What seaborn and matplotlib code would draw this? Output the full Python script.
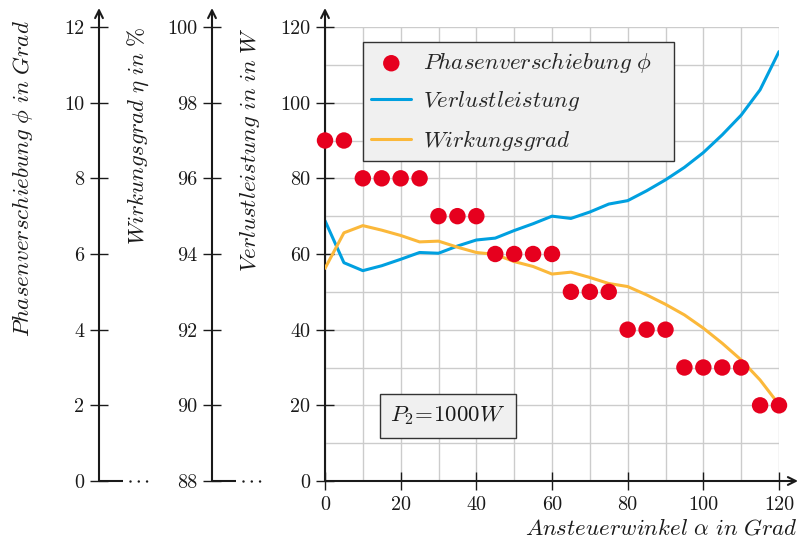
import matplotlib
matplotlib.use("Agg")
import matplotlib.pyplot as plt
import pandas as pd
import seaborn as sns
from matplotlib.ticker import MultipleLocator

# Messreihe: Ansteuerwinkel in Grad
winkel = [0, 5, 10, 15, 20, 25, 30, 35, 40, 45, 50, 55, 60,
          65, 70, 75, 80, 85, 90, 95, 100, 105, 110, 115, 120]
# Phasenverschiebung phi in Grad
phase = [9, 9, 8, 8, 8, 8, 7, 7, 7, 6, 6, 6, 6,
         5, 5, 5, 4, 4, 4, 3, 3, 3, 3, 2, 2]
# Verlustleistung in W
verlust = [68.8, 57.7, 55.6, 56.9, 58.6, 60.4, 60.2, 62.1, 63.7, 64.2, 66.2, 68.0, 70.0,
           69.4, 71.1, 73.2, 74.1, 76.7, 79.6, 82.9, 86.8, 91.5, 96.7, 103.4, 113.5]
# Wirkungsgrad eta in %
wirkungsgrad = [93.62, 94.56, 94.75, 94.63, 94.49, 94.32, 94.34, 94.18, 94.04, 93.99, 93.80,
                93.67, 93.47, 93.52, 93.38, 93.22, 93.14, 92.92, 92.67, 92.39, 92.04,
                91.64, 91.20, 90.67, 90.02]

phase_ticks = [0, 2, 4, 6, 8, 10, 12]
eta_ticks = [88, 90, 92, 94, 96, 98, 100]
verlust_ticks = [0, 20, 40, 60, 80, 100, 120]
winkel_ticks = [0, 20, 40, 60, 80, 100, 120]

df = pd.DataFrame({"winkel": winkel, "phase": phase,
                   "verlust": verlust, "eta": wirkungsgrad})

sns.set_style("white")
plt.rcParams["font.family"] = ["cmr10", "DejaVu Serif"]
plt.rcParams["mathtext.fontset"] = "cm"
plt.rcParams["axes.formatter.use_mathtext"] = True
plt.rcParams["axes.unicode_minus"] = False

FS = 14.5      # Zahlen an den Achsen
FT = 16.5      # kursive Beschriftungen
RED = "#E6001E"
BLUE = "#00A0E0"
ORANGE = "#FBB83A"
INK = "#1a1a1a"

W, H = 801, 543
fig = plt.figure(figsize=(W / 100, H / 100), dpi=100)


def px_rect(x0, y0, x1, y1):
    return [x0 / W, 1 - y1 / H, (x1 - x0) / W, (y1 - y0) / H]


TOP, BOT = 27, 481
arrow_ext = 1 + 19 / (BOT - TOP)


def style_y_axis(ax, ticks, lims):
    ax.set_ylim(*lims)
    ax.set_yticks(ticks)
    ax.set_yticklabels([str(t) for t in ticks], fontsize=FS, color=INK)
    ax.tick_params(axis="y", direction="inout", length=13.5, width=1.0,
                   pad=4, color=INK, left=True)
    for s in ax.spines.values():
        s.set_visible(False)
    ax.annotate("", xy=(0, arrow_ext), xytext=(0, 0), xycoords="axes fraction",
                textcoords="axes fraction",
                arrowprops=dict(arrowstyle="->", lw=1.5, color=INK,
                                shrinkA=0, shrinkB=0, mutation_scale=14))


# Zusaetzliche linke Achsen fuer phi und eta
for x0, ticks, lims in [(99, phase_ticks, (0, 12)), (212, eta_ticks, (88, 100))]:
    side = fig.add_axes(px_rect(x0, TOP, x0 + 54, BOT))
    side.patch.set_visible(False)
    side.set_xlim(0, 1)
    side.set_xticks([])
    style_y_axis(side, ticks, lims)
    side.plot([0, 0.45], [lims[0], lims[0]], color=INK, lw=1.5,
              solid_capstyle="butt", clip_on=False)
    side.plot([0.58, 1.0], [lims[0], lims[0]], color=INK, lw=1.8,
              linestyle=(0, (0.01, 3.3)), dash_capstyle="round", clip_on=False)

# Hauptachse: Verlustleistung ueber Ansteuerwinkel
ax = fig.add_axes(px_rect(325, TOP, 779, BOT))
ax.set_xlim(0, 120)
style_y_axis(ax, verlust_ticks, (0, 120))
ax.set_xticks(winkel_ticks)
ax.set_xticklabels([str(t) for t in winkel_ticks], fontsize=FS, color=INK)
ax.tick_params(axis="x", direction="inout", length=13.5, width=1.0, pad=4,
               color=INK, bottom=True)
ax.xaxis.set_minor_locator(MultipleLocator(10))
ax.yaxis.set_minor_locator(MultipleLocator(10))
ax.tick_params(which="minor", length=0)
ax.grid(True, which="both", color="#cccccc", lw=1.0)
ax.set_axisbelow(True)
ax.annotate("", xy=(arrow_ext, 0), xytext=(0, 0), xycoords="axes fraction",
            textcoords="axes fraction",
            arrowprops=dict(arrowstyle="->", lw=1.5, color=INK,
                            shrinkA=0, shrinkB=0, mutation_scale=14))

sns.lineplot(data=df, x="winkel", y="verlust", ax=ax, color=BLUE, lw=2.2,
             label=r"$Verlustleistung$")
ax.set_xlabel("")
ax.set_ylabel("")

# Wirkungsgrad auf eigener Skala (88..100 %)
ax_eta = ax.twinx()
ax_eta.set_ylim(88, 100)
sns.lineplot(data=df, x="winkel", y="eta", ax=ax_eta, color=ORANGE, lw=2.2,
             label=r"$Wirkungsgrad$")

# Phasenverschiebung auf eigener Skala (0..12 Grad)
ax_phi = ax.twinx()
ax_phi.set_ylim(0, 12)
sns.scatterplot(data=df, x="winkel", y="phase", ax=ax_phi, color=RED, s=140,
                edgecolor="none", label=r"$Phasenverschiebung\ \phi$",
                clip_on=False, zorder=5)

handles, labels = [], []
for a in (ax_phi, ax, ax_eta):
    h, l = a.get_legend_handles_labels()
    handles += h
    labels += l
    if a.get_legend() is not None:
        a.get_legend().remove()

for a in (ax_eta, ax_phi):
    a.set_xlim(0, 120)
    a.set_xlabel("")
    a.set_ylabel("")
    a.set_yticks([])
    for s in a.spines.values():
        s.set_visible(False)

# Legendenkasten mit fester Breite
leg_x0 = (363 - 325) / 454
leg_w = (674 - 363) / 454
leg_top = (BOT - 42) / 454
leg = ax_phi.legend(handles, labels, loc="upper left",
                    bbox_to_anchor=(leg_x0, leg_top - 0.25, leg_w, 0.25),
                    mode="expand",
                    borderaxespad=0, fontsize=FT, frameon=True, fancybox=False,
                    facecolor="#f0f0f0", edgecolor="#333333", framealpha=1,
                    handlelength=1.75, handletextpad=0.5, labelspacing=0.62,
                    borderpad=0.36, markerscale=1.0)
leg.get_frame().set_linewidth(1.0)
leg.set_zorder(10)

ax.text(32.5, 17.2, r"$P_2\!=\!1000W$", ha="center", va="center", fontsize=FT,
        color=INK, zorder=6,
        bbox=dict(boxstyle="square,pad=0.45", fc="#f0f0f0", ec="#333333", lw=1.0))

# Achsenbeschriftungen
fig.text(23 / W, 1 - 20 / H, r"$Phasenverschiebung\ \phi\ in\ Grad$", rotation=90,
         ha="center", va="top", fontsize=FT, color=INK)
fig.text(138 / W, 1 - 27 / H, r"$Wirkungsgrad\ \eta\ in\ \%$", rotation=90,
         ha="center", va="top", fontsize=FT, color=INK)
fig.text(250 / W, 1 - 27 / H, r"$Verlustleistung\ in\ in\ W$", rotation=90,
         ha="center", va="top", fontsize=FT, color=INK)
fig.text(798 / W, 1 - 528 / H, r"$Ansteuerwinkel\ \alpha\ in\ Grad$",
         ha="right", va="center", fontsize=FT, color=INK)

fig.savefig("out.png", dpi=100, facecolor="white")
